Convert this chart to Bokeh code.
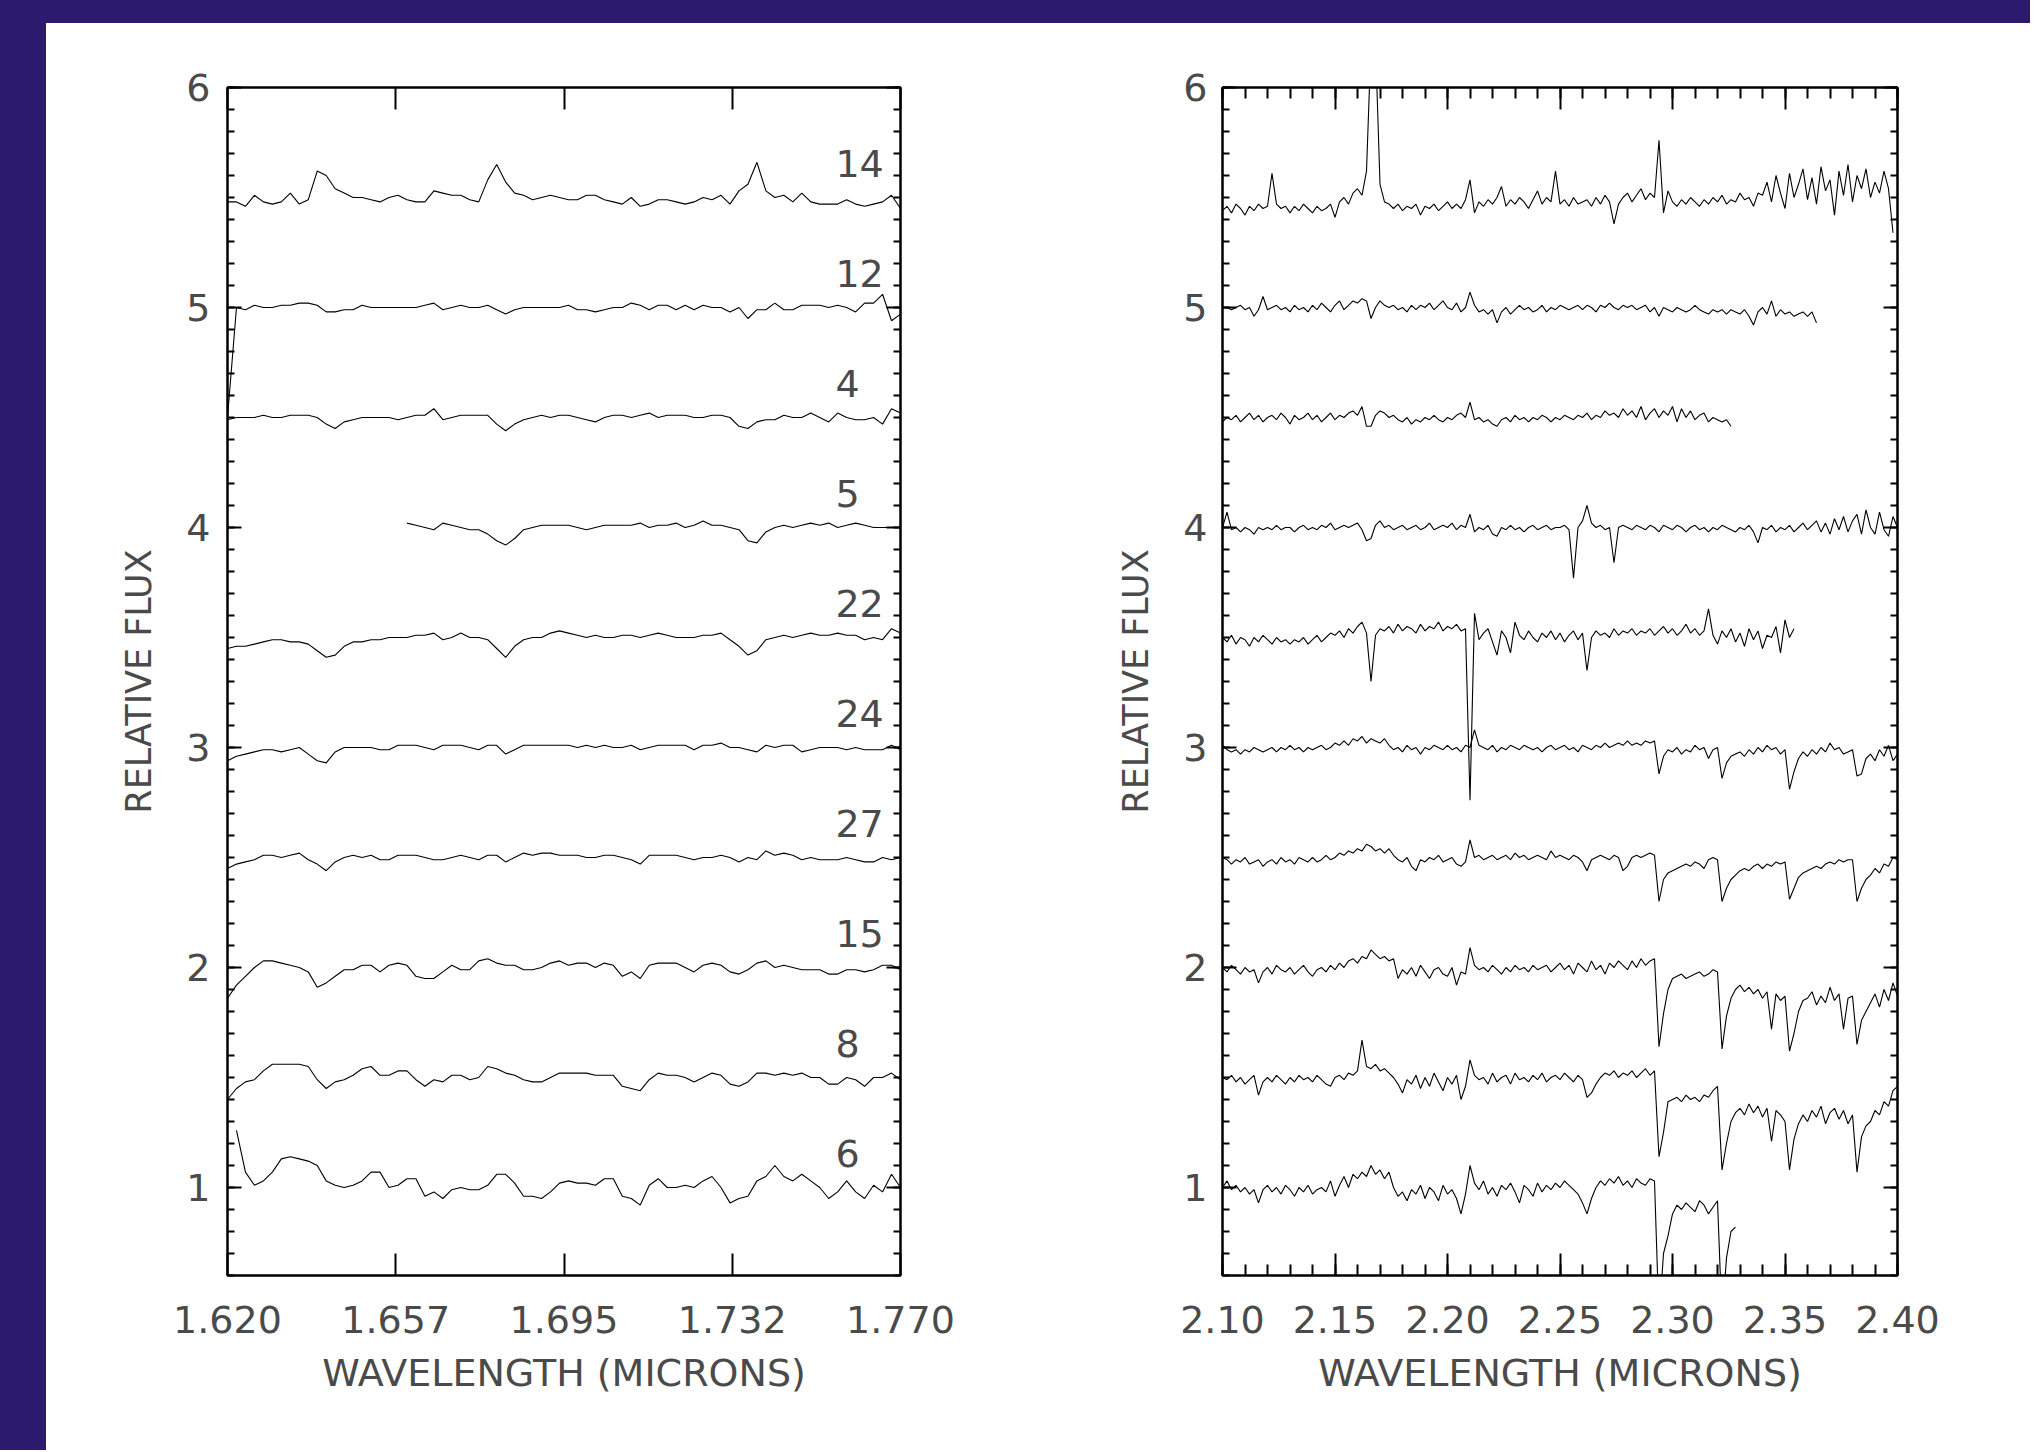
import numpy as np
from bokeh.plotting import figure
from bokeh.models import Range1d, FixedTicker, LinearAxis, Spacer, ColumnDataSource
from bokeh.layouts import row, column
from bokeh.core.properties import value
from bokeh.embed import file_html
from bokeh.resources import INLINE

# ---------------- data ----------------
OBJECTS = ["14", "12", "4", "5", "22", "24", "27", "15", "8", "6"]
OFFSETS = [5.5, 5.0, 4.5, 4.0, 3.5, 3.0, 2.5, 2.0, 1.5, 1.0]

# H band: relative flux in percent of continuum, sampled every 0.002 micron
H_STEP = 0.002
H_START = [1.620, 1.620, 1.620, 1.660, 1.620, 1.620, 1.620, 1.620, 1.620, 1.622]

h14 = [98, 98, 96, 101, 98, 97, 98, 102, 97, 99,
       112, 110, 104, 102, 100, 100, 99, 98, 100, 101,
       99, 98, 98, 103, 102, 101, 101, 99, 98, 108,
       115, 107, 102, 101, 99, 100, 101, 100, 99, 99,
       101, 101, 99, 98, 97, 100, 96, 97, 99, 99,
       98, 97, 98, 100, 99, 101, 97, 103, 106, 116,
       103, 100, 101, 98, 102, 98, 97, 97, 97, 99,
       97, 96, 97, 98, 101, 95]
h12 = [50, 100, 99, 101, 100, 100, 101, 101, 102, 102,
       101, 98, 98, 99, 99, 101, 100, 100, 100, 100,
       100, 100, 101, 102, 99, 100, 101, 100, 100, 101,
       99, 97, 99, 100, 100, 100, 100, 100, 101, 99,
       99, 98, 99, 100, 100, 102, 101, 99, 101, 101,
       99, 101, 99, 101, 100, 100, 98, 100, 95, 99,
       99, 102, 99, 99, 101, 101, 101, 100, 101, 100,
       98, 102, 102, 106, 94, 97]
h4 = [99, 100, 100, 100, 101, 100, 100, 101, 101, 101,
      100, 97, 95, 98, 99, 100, 100, 100, 100, 99,
      100, 101, 101, 104, 99, 100, 101, 101, 101, 101,
      97, 94, 97, 99, 100, 101, 100, 101, 101, 100,
      99, 98, 100, 101, 101, 100, 101, 102, 100, 101,
      101, 101, 100, 100, 101, 101, 100, 96, 95, 98,
      99, 99, 101, 100, 100, 102, 100, 98, 102, 100,
      99, 99, 100, 97, 104, 102]
h5 = [102, 101, 100, 99, 102, 101, 100, 99, 99, 97,
      94, 92, 95, 99, 100, 101, 101, 101, 101, 100,
      99, 100, 101, 101, 101, 101, 102, 100, 101, 101,
      102, 100, 101, 103, 101, 101, 100, 99, 94, 93,
      98, 100, 101, 100, 101, 102, 101, 102, 100, 101,
      102, 101, 100, 100, 100, 100]
h22 = [95, 96, 96, 97, 98, 99, 99, 98, 98, 97,
       94, 91, 92, 96, 98, 98, 99, 99, 100, 100,
       100, 101, 101, 102, 99, 100, 102, 100, 100, 99,
       95, 91, 96, 99, 100, 100, 102, 103, 102, 101,
       100, 101, 100, 100, 101, 101, 100, 101, 102, 101,
       100, 100, 100, 101, 101, 102, 99, 96, 92, 94,
       99, 100, 101, 100, 101, 102, 101, 101, 102, 101,
       101, 99, 100, 99, 104, 102]
h24 = [94, 96, 97, 98, 99, 99, 98, 99, 100, 97,
       94, 93, 98, 100, 100, 100, 100, 99, 99, 101,
       101, 101, 100, 99, 101, 101, 101, 100, 99, 101,
       101, 97, 99, 101, 101, 101, 101, 101, 101, 100,
       101, 100, 101, 100, 100, 101, 99, 100, 101, 101,
       101, 101, 99, 101, 101, 102, 100, 100, 99, 98,
       101, 100, 101, 101, 98, 99, 100, 100, 100, 99,
       100, 99, 99, 99, 101, 99]
h27 = [95, 97, 98, 99, 101, 101, 100, 101, 102, 99,
       97, 94, 98, 100, 101, 100, 101, 99, 99, 101,
       101, 101, 100, 99, 99, 100, 101, 100, 99, 101,
       101, 98, 100, 102, 101, 102, 102, 101, 101, 101,
       100, 100, 101, 101, 100, 99, 97, 101, 101, 101,
       101, 100, 99, 100, 100, 101, 100, 98, 100, 99,
       103, 101, 102, 101, 99, 100, 99, 99, 99, 100,
       99, 98, 98, 100, 99, 100]
h15 = [86, 92, 96, 100, 103, 103, 102, 101, 100, 98,
       91, 93, 96, 99, 99, 101, 101, 98, 101, 102,
       101, 96, 95, 95, 98, 101, 99, 99, 103, 104,
       102, 101, 101, 99, 99, 100, 102, 103, 101, 102,
       102, 100, 102, 101, 96, 98, 95, 101, 102, 102,
       102, 100, 98, 101, 102, 101, 98, 97, 99, 102,
       103, 100, 101, 100, 99, 99, 99, 97, 97, 99,
       99, 98, 99, 101, 101, 99]
h8 = [90, 95, 98, 99, 103, 106, 106, 106, 106, 105,
      99, 95, 98, 99, 101, 104, 105, 101, 101, 103,
      103, 99, 96, 99, 98, 101, 101, 99, 100, 105,
      104, 102, 101, 99, 98, 98, 100, 102, 102, 102,
      102, 101, 101, 101, 96, 95, 94, 99, 102, 101,
      101, 100, 98, 100, 102, 101, 97, 96, 98, 102,
      102, 101, 102, 101, 102, 100, 100, 97, 97, 100,
      99, 96, 100, 100, 102, 99]
h6 = [126, 107, 101, 103, 107, 113, 114, 113, 112,
      110, 103, 101, 100, 101, 103, 107, 107, 100, 101,
      104, 104, 96, 98, 95, 99, 100, 99, 99, 101,
      106, 106, 102, 96, 96, 95, 98, 102, 103, 102,
      102, 101, 104, 104, 96, 95, 92, 101, 104, 100,
      100, 101, 100, 103, 105, 100, 93, 95, 96, 103,
      105, 110, 105, 103, 106, 103, 100, 95, 98, 103,
      98, 95, 101, 98, 106, 100]

# K band: relative flux in percent, sampled every 0.002 micron from 2.100
K_START = 2.100
K_STEP = 0.002

k14 = [94, 96, 93, 97, 95, 92, 96, 94, 97, 95,
       96, 111, 97, 95, 96, 93, 96, 94, 97, 95,
       93, 96, 94, 95, 97, 91, 98, 100, 97, 102,
       104, 101, 112, 170, 170, 106, 98, 97, 95, 97,
       94, 96, 95, 97, 92, 96, 95, 97, 94, 96,
       98, 95, 97, 95, 99, 108, 93, 98, 96, 99,
       97, 100, 105, 96, 99, 97, 100, 98, 95, 99,
       103, 97, 100, 98, 112, 97, 99, 96, 100, 97,
       98, 99, 96, 100, 97, 101, 98, 88, 97, 100,
       102, 98, 101, 104, 99, 102, 100, 126, 93, 103,
       98, 96, 99, 97, 100, 98, 96, 99, 97, 100,
       98, 101, 97, 99, 98, 102, 99, 100, 96, 102,
       101, 107, 98, 110, 102, 95, 111, 100, 106, 113,
       99, 109, 97, 114, 103, 108, 92, 112, 101, 115,
       98, 110, 104, 113, 100, 107, 102, 112, 104, 84]
k12 = [100, 100, 99, 100, 101, 99, 100, 96, 99, 105,
       99, 100, 101, 99, 100, 98, 101, 99, 100, 98,
       101, 99, 102, 100, 98, 101, 103, 99, 101, 103,
       102, 104, 103, 95, 100, 103, 101, 100, 101, 99,
       100, 98, 101, 99, 101, 100, 102, 99, 101, 103,
       100, 99, 102, 98, 100, 107, 101, 98, 99, 97,
       99, 93, 98, 100, 97, 99, 101, 99, 100, 98,
       99, 101, 98, 100, 99, 101, 100, 99, 100, 101,
       99, 101, 100, 98, 101, 100, 102, 100, 99, 101,
       100, 101, 99, 100, 101, 98, 100, 96, 100, 99,
       98, 100, 99, 98, 99, 101, 99, 98, 97, 99,
       98, 99, 97, 99, 98, 97, 99, 96, 92, 98,
       100, 97, 103, 96, 99, 97, 98, 96, 97, 98,
       96, 98, 93]
k4 = [98, 100, 99, 101, 98, 100, 102, 99, 101, 98,
      100, 101, 99, 102, 100, 97, 101, 99, 100, 102,
      99, 101, 98, 100, 102, 99, 101, 100, 102, 103,
      101, 105, 96, 96, 101, 103, 102, 100, 101, 99,
      98, 100, 97, 99, 98, 100, 99, 101, 99, 98,
      100, 99, 101, 102, 100, 107, 99, 100, 98, 99,
      97, 96, 99, 100, 98, 101, 99, 100, 98, 100,
      99, 101, 100, 98, 100, 99, 101, 100, 99, 101,
      100, 102, 99, 101, 100, 103, 101, 102, 100, 104,
      101, 103, 100, 105, 99, 102, 104, 100, 103, 101,
      105, 98, 104, 100, 103, 99, 101, 102, 98, 100,
      99, 98, 99, 96]
k5 = [100, 107, 99, 100, 98, 100, 99, 97, 100, 99,
      100, 99, 101, 99, 100, 100, 98, 100, 101, 99,
      100, 99, 101, 100, 102, 99, 100, 101, 100, 101,
      102, 99, 94, 95, 101, 103, 100, 101, 99, 100,
      101, 99, 100, 101, 99, 100, 102, 99, 100, 101,
      100, 102, 99, 101, 100, 106, 98, 100, 99, 101,
      97, 96, 100, 99, 101, 99, 100, 98, 100, 101,
      99, 100, 101, 99, 100, 100, 101, 99, 77, 100,
      103, 110, 102, 100, 101, 99, 100, 84, 100, 101,
      100, 99, 101, 100, 99, 101, 100, 98, 101, 100,
      99, 101, 100, 98, 100, 101, 99, 100, 98, 100,
      99, 101, 100, 99, 98, 100, 99, 101, 98, 93,
      100, 99, 101, 98, 100, 99, 101, 98, 100, 102,
      99, 101, 103, 98, 102, 97, 104, 99, 105, 98,
      103, 106, 97, 108, 100, 97, 107, 99, 96, 105,
      100]
k22 = [100, 98, 101, 97, 100, 99, 96, 100, 98, 101,
       99, 97, 100, 98, 99, 97, 99, 98, 100, 97,
       99, 101, 98, 100, 102, 101, 103, 100, 104, 102,
       105, 107, 102, 80, 101, 104, 103, 105, 102, 106,
       103, 105, 104, 102, 106, 103, 105, 104, 107, 103,
       105, 104, 106, 103, 104, 26, 111, 99, 102, 104,
       98, 92, 103, 100, 93, 107, 101, 99, 103, 100,
       98, 102, 100, 103, 99, 102, 98, 101, 103, 99,
       102, 85, 100, 103, 101, 102, 100, 104, 101, 103,
       102, 104, 101, 103, 102, 104, 101, 103, 105, 102,
       104, 101, 103, 106, 102, 104, 101, 103, 113, 101,
       97, 103, 100, 104, 98, 102, 96, 104, 99, 103,
       95, 101, 100, 105, 93, 108, 100, 104]
k24 = [101, 99, 98, 99, 97, 99, 98, 100, 99, 98,
       99, 100, 98, 100, 99, 101, 99, 100, 98, 100,
       99, 100, 101, 99, 100, 102, 101, 103, 101, 104,
       103, 105, 102, 104, 103, 102, 104, 101, 99, 100,
       98, 101, 99, 100, 97, 100, 99, 101, 100, 99,
       101, 99, 100, 98, 101, 100, 108, 101, 100, 99,
       101, 98, 100, 99, 101, 100, 99, 101, 100, 99,
       100, 98, 100, 101, 99, 100, 101, 99, 100, 98,
       101, 100, 99, 101, 100, 102, 100, 101, 102, 101,
       103, 101, 102, 101, 103, 102, 103, 88, 96, 99,
       98, 100, 97, 99, 98, 101, 99, 100, 95, 99,
       100, 86, 93, 96, 97, 98, 96, 99, 97, 100,
       98, 101, 99, 100, 97, 99, 81, 89, 95, 98,
       96, 99, 97, 100, 98, 102, 99, 100, 97, 98,
       99, 87, 88, 95, 97, 94, 99, 96, 101, 94,
       97]
k27 = [100, 99, 97, 99, 98, 100, 97, 98, 99, 96,
       98, 99, 97, 100, 98, 99, 97, 100, 99, 98,
       100, 98, 99, 101, 99, 100, 102, 101, 103, 102,
       104, 103, 106, 105, 103, 104, 102, 104, 101, 99,
       98, 100, 96, 94, 99, 98, 100, 99, 101, 98,
       99, 100, 97, 96, 98, 108, 100, 101, 99, 100,
       101, 99, 100, 101, 99, 102, 100, 101, 99, 100,
       101, 100, 99, 103, 100, 101, 100, 99, 101, 100,
       98, 94, 99, 100, 101, 100, 99, 101, 100, 94,
       96, 100, 101, 100, 101, 102, 101, 80, 90, 93,
       94, 95, 96, 97, 96, 98, 97, 95, 99, 100,
       99, 80, 86, 90, 92, 94, 95, 94, 96, 97,
       95, 97, 96, 98, 97, 98, 81, 86, 91, 93,
       94, 95, 96, 95, 97, 98, 97, 99, 98, 99,
       99, 80, 86, 90, 92, 95, 93, 97, 96, 100,
       99]
k15 = [100, 98, 101, 99, 97, 100, 98, 99, 93, 98,
       100, 97, 101, 99, 98, 100, 97, 99, 101, 98,
       96, 99, 100, 98, 101, 99, 102, 100, 103, 104,
       102, 105, 104, 108, 106, 104, 105, 103, 104, 95,
       99, 97, 100, 96, 101, 98, 95, 99, 100, 97,
       96, 100, 92, 98, 97, 109, 101, 99, 100, 98,
       101, 99, 97, 100, 98, 101, 99, 100, 98, 101,
       99, 100, 101, 98, 100, 102, 99, 101, 97, 102,
       100, 98, 103, 99, 101, 97, 102, 100, 103, 101,
       99, 103, 100, 104, 101, 103, 104, 64, 79, 90,
       95, 96, 97, 95, 96, 97, 98, 96, 97, 99,
       98, 63, 78, 86, 90, 92, 89, 91, 88, 90,
       86, 89, 72, 88, 85, 87, 62, 70, 80, 85,
       86, 89, 83, 87, 84, 91, 85, 88, 72, 86,
       87, 65, 76, 80, 84, 88, 82, 90, 85, 93,
       87]
k8 = [100, 99, 101, 98, 100, 97, 99, 101, 92, 98,
      100, 98, 101, 99, 97, 100, 98, 101, 99, 100,
      98, 101, 99, 97, 96, 100, 101, 99, 102, 101,
      103, 117, 105, 104, 106, 103, 104, 102, 100, 97,
      93, 99, 97, 101, 95, 100, 96, 102, 98, 94,
      100, 97, 101, 90, 96, 108, 101, 99, 100, 97,
      102, 98, 100, 101, 97, 102, 99, 100, 98, 101,
      99, 102, 98, 100, 101, 99, 102, 100, 98, 101,
      99, 91, 93, 97, 100, 102, 101, 103, 100, 102,
      101, 103, 100, 102, 104, 101, 103, 64, 75, 89,
      90, 91, 89, 92, 90, 91, 89, 92, 91, 94,
      96, 58, 70, 80, 84, 86, 83, 88, 84, 87,
      82, 86, 71, 85, 83, 80, 58, 72, 79, 83,
      80, 85, 82, 87, 79, 84, 86, 81, 85, 79,
      83, 57, 73, 78, 80, 85, 83, 89, 87, 94,
      96]
k6 = [100, 103, 99, 101, 98, 100, 97, 99, 93, 99,
      101, 98, 100, 97, 101, 99, 96, 100, 98, 101,
      97, 99, 100, 98, 103, 96, 101, 105, 100, 106,
      104, 107, 105, 110, 106, 108, 104, 107, 100, 96,
      98, 94, 99, 97, 101, 95, 100, 98, 94, 101,
      97, 99, 95, 88, 97, 110, 102, 99, 103, 97,
      100, 96, 101, 99, 102, 98, 93, 101, 99, 96,
      102, 98, 101, 99, 102, 100, 103, 101, 99, 97,
      93, 88, 95, 100, 103, 101, 104, 102, 105, 101,
      103, 100, 104, 102, 101, 104, 103, 40, 70, 78,
      88, 92, 90, 93, 91, 89, 94, 92, 88, 91,
      94, 40, 68, 80, 82]

H_FLUX = [h14, h12, h4, h5, h22, h24, h27, h15, h8, h6]
K_FLUX = [k14, k12, k4, k5, k22, k24, k27, k15, k8, k6]

H_TICKS = [1.620, 1.6575, 1.695, 1.7325, 1.770]
H_TICK_LABELS = ["1.620", "1.657", "1.695", "1.732", "1.770"]
K_TICKS = [2.10, 2.15, 2.20, 2.25, 2.30, 2.35, 2.40]
K_TICK_LABELS = ["2.10", "2.15", "2.20", "2.25", "2.30", "2.35", "2.40"]
K_MINOR = [round(2.10 + 0.01 * i, 2) for i in range(31)]
Y_TICKS = [1, 2, 3, 4, 5, 6]
Y_TICK_LABELS = ["1", "2", "3", "4", "5", "6"]
Y_MINOR = [round(0.6 + 0.1 * i, 1) for i in range(55)]

# ---------------- style ----------------
FONT = "DejaVu Sans"
TXT = "#4a4a4a"
PURPLE = "#2b1a6e"
FIG_H = 1427
LEFT_BAND = 46
TOP_BAND = 23


def style_axis(ax, ticker, labels, major_len, minor_len, show_labels, standoff):
    ax.ticker = ticker
    ax.major_label_overrides = {t: (l if show_labels else "") for t, l in zip(ticker.ticks, labels)}
    ax.major_tick_in = major_len
    ax.major_tick_out = 0
    ax.minor_tick_in = minor_len
    ax.minor_tick_out = 0
    ax.major_tick_line_width = 2
    ax.minor_tick_line_width = 2
    ax.major_tick_line_color = "black"
    ax.minor_tick_line_color = "black"
    ax.axis_line_width = 2
    ax.axis_line_color = "black"
    ax.major_label_text_font = FONT
    ax.major_label_text_font_size = "38px"
    ax.major_label_text_color = TXT
    ax.major_label_standoff = standoff


def make_panel(width, bl, br, xr, xticks, xlabels, xminor, xminor_len, ylab_standoff, ylabel_standoff):
    p = figure(width=width, height=FIG_H, x_range=Range1d(*xr), y_range=Range1d(0.6, 6.0),
               output_backend="svg", toolbar_location=None,
               min_border_left=bl, min_border_right=br, min_border_top=64,
               min_border_bottom=FIG_H - 64 - 1188,
               x_axis_label="WAVELENGTH (MICRONS)", y_axis_label="RELATIVE FLUX")
    p.grid.visible = False
    p.outline_line_color = "black"
    p.outline_line_width = 2
    p.border_fill_color = "white"
    p.background_fill_color = "white"

    xt = FixedTicker(ticks=xticks, minor_ticks=xminor)
    yt = FixedTicker(ticks=Y_TICKS, minor_ticks=Y_MINOR)

    style_axis(p.xaxis[0], xt, xlabels, 22, xminor_len, True, 30)
    style_axis(p.yaxis[0], yt, Y_TICK_LABELS, 14, 7, True, ylab_standoff)
    p.xaxis[0].axis_label_text_font = FONT
    p.xaxis[0].axis_label_text_font_size = "38px"
    p.xaxis[0].axis_label_text_font_style = "normal"
    p.xaxis[0].axis_label_text_color = TXT
    p.xaxis[0].axis_label_standoff = 15
    p.yaxis[0].axis_label_text_font = FONT
    p.yaxis[0].axis_label_text_font_size = "35px"
    p.yaxis[0].axis_label_text_font_style = "normal"
    p.yaxis[0].axis_label_text_color = TXT
    p.yaxis[0].axis_label_standoff = ylabel_standoff

    top = LinearAxis()
    style_axis(top, xt, xlabels, 22, xminor_len, False, 0)
    p.add_layout(top, "above")
    right = LinearAxis()
    style_axis(right, yt, Y_TICK_LABELS, 14, 7, False, 0)
    p.add_layout(right, "right")
    return p


p1 = make_panel(1014, 181, 160, (1.620, 1.770), H_TICKS, H_TICK_LABELS, [], 0, 17, 24)
p2 = make_panel(970, 162, 133, (2.10, 2.40), K_TICKS, K_TICK_LABELS, K_MINOR, 11, 15, 24)

for flux, start, off in zip(H_FLUX, H_START, OFFSETS):
    x = start + H_STEP * np.arange(len(flux))
    y = np.array(flux) / 100.0 + off - 1.0
    p1.line(x=x, y=y, line_color="black", line_width=1.1)

for flux, off in zip(K_FLUX, OFFSETS):
    x = K_START + K_STEP * np.arange(len(flux))
    y = np.array(flux) / 100.0 + off - 1.0
    p2.line(x=x, y=y, line_color="black", line_width=1.1)

lab_src = ColumnDataSource(dict(x=[1.7555] * len(OBJECTS),
                                y=[o + 0.155 for o in OFFSETS],
                                t=OBJECTS))
p1.text(x="x", y="y", text="t", source=lab_src, text_align="left", text_baseline="middle",
        text_font=value(FONT), text_font_size="38px", text_color=TXT)

page = row(Spacer(width=LEFT_BAND, height=TOP_BAND + FIG_H, styles={"background-color": PURPLE}),
           column(Spacer(width=1014 + 970, height=TOP_BAND, styles={"background-color": PURPLE}),
                  row(p1, p2)))

open("out.html", "w").write(file_html(page, INLINE))
